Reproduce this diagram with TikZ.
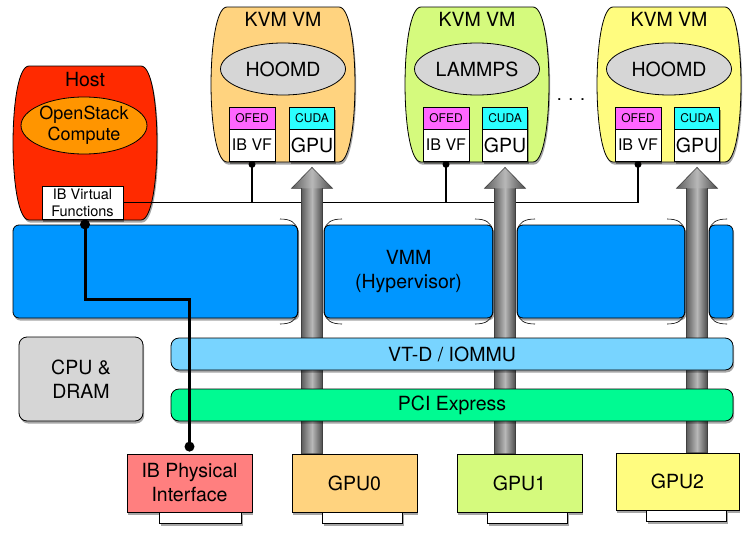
\documentclass[tikz,border=0pt]{standalone}
\usepackage{fontspec}
\setmainfont{TeX Gyre Heros}
\usetikzlibrary{shapes.geometric,shadows,calc}
\definecolor{hostred}{HTML}{FF2A00}
\definecolor{osorange}{HTML}{FF9500}
\definecolor{vmA}{HTML}{FFD37F}
\definecolor{vmB}{HTML}{D5FA7D}
\definecolor{vmC}{HTML}{FFFC7F}
\definecolor{appgray}{HTML}{D6D6D6}
\definecolor{ofedpink}{HTML}{FF66FF}
\definecolor{cudacyan}{HTML}{2BFFFF}
\definecolor{vmmblue}{HTML}{0096FF}
\definecolor{vtdblue}{HTML}{78D4FF}
\definecolor{pcigreen}{HTML}{00FA92}
\definecolor{ibred}{HTML}{FF7F7F}
\definecolor{arrowdark}{HTML}{5E5E5E}
\definecolor{arrowlight}{HTML}{B8B8B8}
\tikzset{
  shad/.style={drop shadow={shadow xshift=1.2pt,shadow yshift=-2.5pt,opacity=0.35,fill=black}},
  outl/.style={draw=black,line width=0.8pt},
  big/.style={font=\fontsize{19.5}{24}\selectfont},
  boxr/.style={rectangle,outl,shad,inner sep=0pt,align=center},
  tabst/.style={fill=white,outl,shad},
  thinl/.style={draw=black,line width=1.2pt},
  thickl/.style={draw=black,line width=3pt},
  bracest/.style={draw=black,line width=0.6pt},
  arrowbody/.style={left color=arrowdark,right color=arrowdark!80!black,middle color=arrowlight},
  arrowline/.style={draw=black!75,line width=0.6pt,line join=miter},
}
\newcommand{\barrelshape}[5]{%
  \path[#5] (#1+16,#2) -- (#3-16,#2) .. controls (#3+5.3,#2) and (#3+5.3,#4) .. (#3-16,#4)
    -- (#1+16,#4) .. controls (#1-5.3,#4) and (#1-5.3,#2) .. (#1+16,#2) -- cycle;}
\newcommand{\vmbox}[5]{%
  \barrelshape{#1}{7}{#1+144}{162}{fill=#2,outl,shad}
  \node[big,anchor=base] (#4lbl) at (#1+72,26) {KVM VM};
  \node[ellipse,outl,fill=appgray,minimum width=125pt,minimum height=52pt,inner sep=0pt,big] (#4app) at (#1+72,69) {#3};
  \node[boxr,fill=ofedpink,minimum width=46pt,minimum height=22pt,font=\fontsize{12}{14}\selectfont] (#4ofed) at (#1+41,118) {OFED};
  \node[boxr,fill=white,minimum width=46pt,minimum height=32pt,font=\fontsize{16}{18}\selectfont] (#4vf) at (#1+41,145) {IB VF};
  \node[boxr,fill=cudacyan,minimum width=45pt,minimum height=22pt,font=\fontsize{12}{14}\selectfont] (#4cuda) at (#5,118) {CUDA};
  \node[boxr,fill=white,minimum width=45pt,minimum height=32pt,font=\fontsize{19.5}{22}\selectfont] (#4gpu) at (#5,145) {GPU};
}
\newcommand{\gpuarrow}[2]{%
  \shade[arrowbody] let \p1=(#1.south), \p2=(#1.south |- #2.north) in
    (\x1-10.5pt,\y1-26.5pt) rectangle (\x1+10.5pt,\y2);
  \shade[arrowbody] let \p1=(#1.south) in
    (\x1,\y1-6pt) -- (\x1+20.5pt,\y1-27pt) -- (\x1-20.5pt,\y1-27pt) -- cycle;
  \draw[arrowline] let \p1=(#1.south), \p2=(#1.south |- #2.north) in
    (\x1,\y1-6pt) -- (\x1+20.5pt,\y1-27pt) -- (\x1+10.5pt,\y1-27pt) -- (\x1+10.5pt,\y2)
    -- (\x1-10.5pt,\y2) -- (\x1-10.5pt,\y1-27pt) -- (\x1-20.5pt,\y1-27pt) -- cycle;
}
\newcommand{\bracer}[1]{\draw[bracest] (#1-18,219) .. controls (#1-8,219) and (#1-1.5,222) .. (#1-0.4,231) -- (#1-0.4,312) .. controls (#1-1.5,321) and (#1-8,324) .. (#1-18,324);}
\newcommand{\bracel}[1]{\draw[bracest] (#1+18,219) .. controls (#1+8,219) and (#1+1.5,222) .. (#1+0.4,231) -- (#1+0.4,312) .. controls (#1+1.5,321) and (#1+8,324) .. (#1+18,324);}
\begin{document}
\begin{tikzpicture}[x=1pt,y=-1pt]
\useasboundingbox (0,0) rectangle (751,538);
\fill[white] (0,0) rectangle (751,538);

% bottom devices
\node[boxr,fill=ibred,minimum width=125pt,minimum height=58pt,big] (ibphys) at (189.5,483) {IB Physical\\Interface};
\draw[tabst] ([xshift=33pt]ibphys.south west) rectangle ++(82,11);
\node[boxr,fill=vmA,minimum width=125pt,minimum height=58pt,big] (gpu0) at (354.5,483) {GPU0};
\draw[tabst] ([xshift=31pt]gpu0.south west) rectangle ++(80,11);
\node[boxr,fill=vmB,minimum width=125pt,minimum height=58pt,big] (gpu1) at (519.5,483) {GPU1};
\draw[tabst] ([xshift=31pt]gpu1.south west) rectangle ++(80,11);
\node[boxr,fill=vmC,minimum width=123pt,minimum height=57pt,big] (gpu2) at (677.5,481.5) {GPU2};
\draw[tabst] ([xshift=31pt]gpu2.south west) rectangle ++(80,11);

% CPU
\node[boxr,rounded corners=8pt,fill=appgray,minimum width=124pt,minimum height=84pt,big] (cpu) at (81,379) {CPU \&\\DRAM};

% host
\barrelshape{13}{66}{157}{220}{fill=hostred,outl,shad}
\node[big,anchor=base] (hostlbl) at (85,86) {Host};
\node[ellipse,outl,fill=osorange,minimum width=124pt,minimum height=57pt,inner sep=0pt,align=center,font=\fontsize{18}{21}\selectfont] (osc) at (84,125.5) {OpenStack\\Compute};
\node[boxr,fill=white,minimum width=81pt,minimum height=33pt,font=\fontsize{14.5}{17}\selectfont] (hostvf) at (82.5,202.5) {IB Virtual\\Functions};

% VMs
\vmbox{211}{vmA}{HOOMD}{va}{312}
\vmbox{405}{vmB}{LAMMPS}{vb}{505}
\vmbox{597}{vmC}{HOOMD}{vc}{697}
\node[anchor=base,font=\fontsize{18}{18}\selectfont] (dots) at (571,100) {. . .};

% IB virtual function links
\draw[thinl] (hostvf.east) -| ([yshift=-3pt]vcvf.south);
\draw[thinl] ([yshift=-3pt]vavf.south) -- (vavf.south |- hostvf.east);
\draw[thinl] ([yshift=-3pt]vbvf.south) -- (vbvf.south |- hostvf.east);
\fill ([yshift=-3pt]vavf.south) circle (3.5pt);
\fill ([yshift=-3pt]vbvf.south) circle (3.5pt);
\fill ([yshift=-3pt]vcvf.south) circle (3.5pt);

% VMM segments
\node[rectangle,rounded corners=6pt,outl,fill=vmmblue,shad,minimum width=285pt,minimum height=93pt] (vmm1) at (155.5,271.5) {};
\node[rectangle,rounded corners=6pt,outl,fill=vmmblue,shad,minimum width=169pt,minimum height=93pt,big,align=center] (vmm2) at (408.5,271.5) {VMM\\(Hypervisor)};
\node[rectangle,rounded corners=6pt,outl,fill=vmmblue,shad,minimum width=168pt,minimum height=93pt] (vmm3) at (601,271.5) {};
\node[rectangle,rounded corners=6pt,outl,fill=vmmblue,shad,minimum width=24pt,minimum height=93pt,inner sep=0pt] (vmm4) at (721,271.5) {};
\bracer{298}
\bracel{324}
\bracer{493}
\bracel{517}
\bracer{685}
\bracel{709}

% GPU passthrough arrows
\gpuarrow{vagpu}{gpu0}
\gpuarrow{vbgpu}{gpu1}
\gpuarrow{vcgpu}{gpu2}

% IOMMU and PCIe
\node[boxr,rounded corners=8pt,fill=vtdblue,minimum width=562pt,minimum height=32pt,big] (vtd) at (452,354) {VT-D / IOMMU};
\node[boxr,rounded corners=8pt,fill=pcigreen,minimum width=562pt,minimum height=32pt,big] (pci) at (452,405) {PCI Express};

% physical IB link
\draw[thickl] ([xshift=2.5pt,yshift=-5pt]hostvf.south) -- ++(0,75) -| ([yshift=7pt]ibphys.north);
\fill ([xshift=2.5pt,yshift=-5pt]hostvf.south) circle (5pt);
\fill ([yshift=7pt]ibphys.north) circle (5pt);
\end{tikzpicture}
\end{document}
